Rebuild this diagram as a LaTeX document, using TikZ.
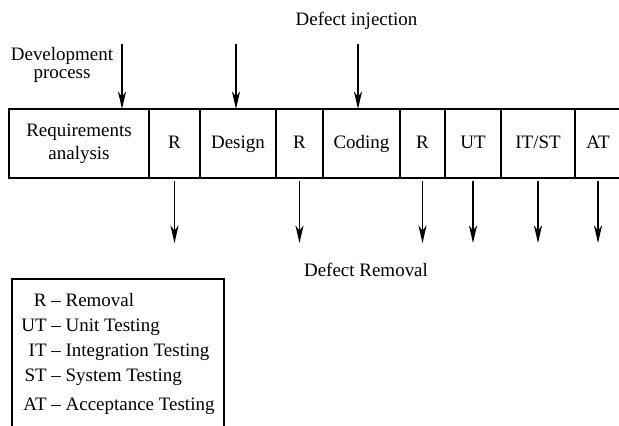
\documentclass[tikz,border=0pt]{standalone}
\usepackage{fontspec}
\setmainfont{Liberation Serif}
\usetikzlibrary{positioning,arrows.meta}

\tikzset{
  cell/.style={draw, line width=0.6pt, minimum height=1.38cm, inner sep=0pt, outer sep=0pt, align=center},
  phase/.style={cell, text height=1.6ex, text depth=0.45ex},
  flow/.style={line width=0.85pt, -{Stealth[length=10pt,width=4.6pt,inset=3pt]}},
}

\begin{document}
\begin{tikzpicture}[font=\fontsize{10.8}{13}\selectfont]

\useasboundingbox (0,0) rectangle (12.38,8.52);

% phases and reviews
\node[cell, minimum width=2.80cm, anchor=north west] (req) at (0.18,6.34) {Requirements\\analysis};
\node[phase, minimum width=1.02cm, right=0pt of req] (r1) {R};
\node[phase, minimum width=1.52cm, right=0pt of r1] (des) {Design};
\node[phase, minimum width=0.94cm, right=0pt of des] (r2) {R};
\node[phase, minimum width=1.54cm, right=0pt of r2] (cod) {Coding};
\node[phase, minimum width=0.90cm, right=0pt of cod] (r3) {R};
\node[phase, minimum width=1.12cm, right=0pt of r3] (ut) {UT};
\node[phase, minimum width=1.48cm, right=0pt of ut] (itst) {IT/ST};
\node[phase, minimum width=0.92cm, right=0pt of itst] (at) {AT};

% injection
\node (inj) at (7.13,8.10) {Defect injection};
\node[align=center, font=\fontsize{10.8}{10.6}\selectfont] (dev) at (1.24,7.22) {Development\\process};

\coordinate (in1) at (2.44,7.64);
\coordinate (in2) at (4.72,7.64);
\coordinate (in3) at (7.16,7.64);

\draw[flow] (in1) -- (in1 |- req.north);
\draw[flow] (in2) -- (in2 |- des.north);
\draw[flow] (in3) -- (in3 |- cod.north);

% removal
\coordinate[below=1.3cm of r1.south] (out1);
\coordinate[below=1.3cm of r2.south] (out2);
\coordinate[below=1.3cm of r3.south] (out3);
\coordinate[below=1.3cm of ut.south] (out4);
\coordinate[below=1.3cm of itst.south] (out5);
\coordinate[below=1.3cm of at.south] (out6);

\draw[flow, shorten <=1.5pt] (r1) -- (out1);
\draw[flow, shorten <=1.5pt] (r2) -- (out2);
\draw[flow, shorten <=1.5pt] (r3) -- (out3);
\draw[flow, shorten <=1.5pt] (ut) -- (out4);
\draw[flow, shorten <=1.5pt] (itst) -- (out5);
\draw[flow, shorten <=1.5pt] (at) -- (out6);

\node (rem) at (7.32,3.12) {Defect Removal};

% key
\draw[line width=0.6pt] (0.24,-0.3) rectangle (4.48,2.94);
\node[anchor=north west, inner sep=0pt] (key) at (0.42,2.75) {\renewcommand{\arraystretch}{1.1}\setlength{\tabcolsep}{0pt}%
  \begin{tabular}{r@{\ --\ }l}
    R & Removal\\
    UT & Unit Testing\\
    IT & Integration Testing\\
    ST & System Testing\\[2pt]
    AT & Acceptance Testing
  \end{tabular}};

\end{tikzpicture}
\end{document}
